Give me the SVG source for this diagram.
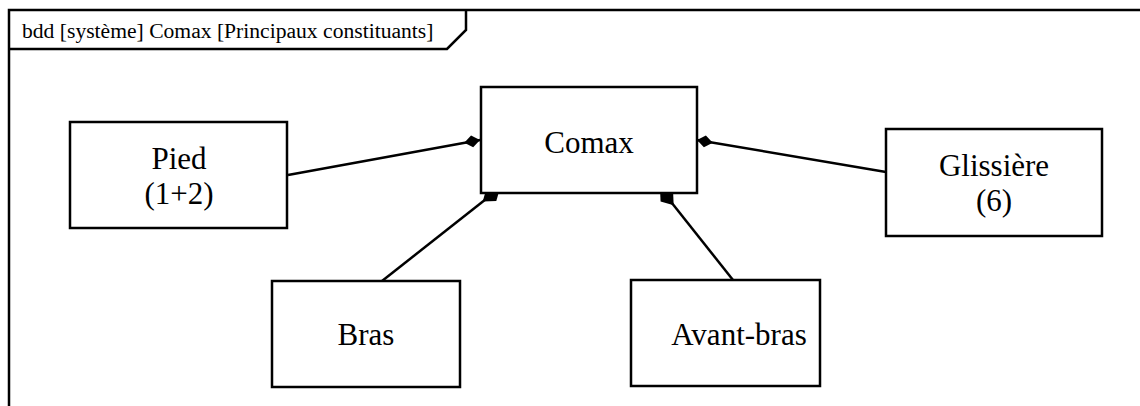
<svg xmlns="http://www.w3.org/2000/svg" width="1140" height="406" viewBox="0 0 1140 406">
<style>
.box{fill:#fff;stroke:#000;stroke-width:2.5}
.lbl{font-family:"Liberation Serif","Times New Roman",serif;font-size:31px;fill:#000;text-anchor:middle}
.title{font-family:"Liberation Serif","Times New Roman",serif;font-size:21.6px;fill:#000}
.conn{stroke:#000;stroke-width:2.5;fill:none;marker-end:url(#diamond)}
.conn-b{stroke:#000;stroke-width:2.5;fill:none;marker-end:url(#diamond-lg)}
.frame{stroke:#000;stroke-width:2.5;fill:none}
</style>
<defs>
<marker id="diamond" markerUnits="userSpaceOnUse" markerWidth="18" markerHeight="14" viewBox="0 -7 18 14" refX="16" refY="0" orient="auto">
<path d="M0,0 L8,-6 L16,0 L8,6 Z" fill="#000"/>
</marker>
<marker id="diamond-lg" markerUnits="userSpaceOnUse" markerWidth="24" markerHeight="18" viewBox="0 -9 24 18" refX="22" refY="0" orient="auto">
<path d="M0,0 L11,-8 L22,0 L11,8 Z" fill="#000"/>
</marker>
</defs>
<rect x="0" y="0" width="1140" height="406" fill="#fff"/>
<g id="frame">
<path class="frame" d="M9,406 V10 H1142"/>
<path class="frame" d="M9,49 H447 L466,30 V10"/>
<text class="title" x="22" y="38">bdd [système] Comax [Principaux constituants]</text>
</g>
<g id="connectors">
<line class="conn" x1="288" y1="175" x2="480" y2="140"/>
<line class="conn" x1="886" y1="172" x2="697" y2="140"/>
<line class="conn-b" x1="382" y1="281" x2="500" y2="188"/>
<line class="conn-b" x1="733" y1="280" x2="660" y2="188"/>
</g>
<g id="node-comax">
<rect class="box" x="481" y="87" width="216" height="106"/>
<text class="lbl" x="589" y="153">Comax</text>
</g>
<g id="node-pied">
<rect class="box" x="70" y="122" width="217" height="106"/>
<text class="lbl" x="179" y="169">Pied</text>
<text class="lbl" x="179" y="204">(1+2)</text>
</g>
<g id="node-glissiere">
<rect class="box" x="886" y="129" width="216" height="107"/>
<text class="lbl" x="994" y="176">Glissière</text>
<text class="lbl" x="994" y="211">(6)</text>
</g>
<g id="node-bras">
<rect class="box" x="272" y="281" width="188" height="106"/>
<text class="lbl" x="366" y="345">Bras</text>
</g>
<g id="node-avant-bras">
<rect class="box" x="631" y="280" width="189" height="106"/>
<text class="lbl" x="739" y="345">Avant-bras</text>
</g>
</svg>
